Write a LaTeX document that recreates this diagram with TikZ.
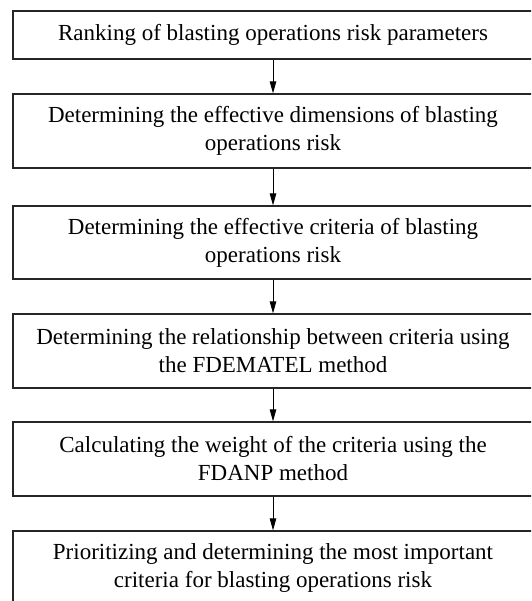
\documentclass[tikz,border=0pt]{standalone}
\usepackage{fontspec}
\setmainfont{Liberation Serif}
\usetikzlibrary{arrows.meta}
\begin{document}
\begin{tikzpicture}[x=1pt,y=-1pt,
  stepbox/.style={draw=black!85, line width=1.3pt, minimum width=520pt, align=center,
    font=\fontsize{23}{28}\selectfont, inner sep=0pt},
  flow/.style={-{Triangle[length=12pt,width=6.5pt]}, line width=0.9pt, black}]
\clip (0,0) rectangle (531,601);
\node[stepbox, minimum height=48pt] (b1) at (273,35) {Ranking of blasting operations risk parameters};
\node[stepbox, minimum height=74pt] (b2) at (273,131) {Determining the effective dimensions of blasting\\operations risk};
\node[stepbox, minimum height=73pt] (b3) at (273,242.5) {Determining the effective criteria of blasting\\operations risk};
\node[stepbox, minimum height=74pt] (b4) at (273,351) {Determining the relationship between criteria using\\the FDEMATEL method};
\node[stepbox, minimum height=74pt] (b5) at (273,459) {Calculating the weight of the criteria using the\\FDANP method};
\node[stepbox, minimum height=74pt] (b6) at (273,568) {Prioritizing and determining the most important\\criteria for blasting operations risk};
\draw[flow] (b1) -- (b2);
\draw[flow] (b2) -- (b3);
\draw[flow] (b3) -- (b4);
\draw[flow] (b4) -- (b5);
\draw[flow] (b5) -- (b6);
\end{tikzpicture}
\end{document}
